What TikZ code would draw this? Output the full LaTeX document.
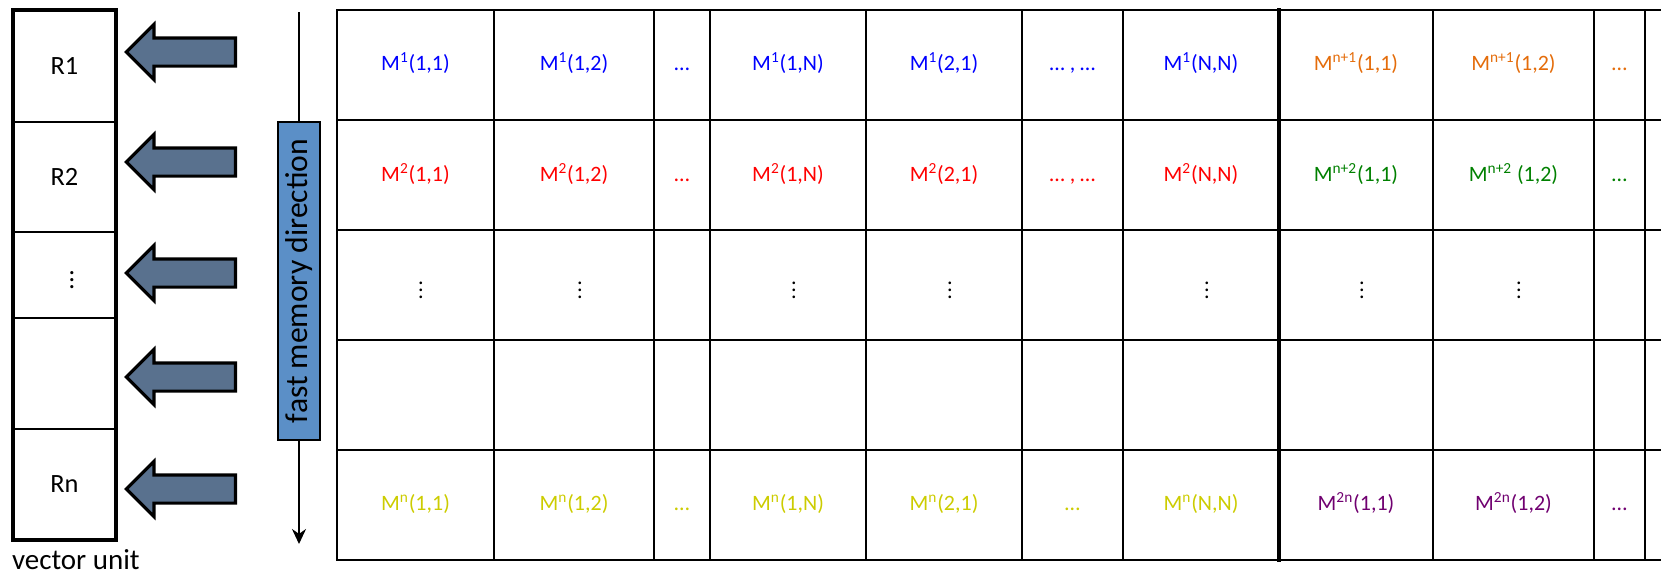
\documentclass[tikz,border=0pt]{standalone}
\usepackage{fontspec}
\setmainfont{Carlito}
\usepackage{xcolor}
\usepackage{tikz}
\usetikzlibrary{arrows.meta,positioning,shapes.arrows}

\definecolor{arrowfill}{RGB}{89,113,142}
\definecolor{dirfill}{RGB}{91,143,199}
\definecolor{mblue}{RGB}{0,0,255}
\definecolor{mred}{RGB}{255,0,0}
\definecolor{morange}{RGB}{228,108,10}
\definecolor{mgreen}{RGB}{0,128,0}
\definecolor{myellow}{RGB}{204,204,0}
\definecolor{mpurple}{RGB}{112,0,112}
\newcommand{\Msup}[1]{M\textsuperscript{#1}}

\begin{document}
\begin{tikzpicture}[
    x=0.02cm, y=-0.02cm,
    every node/.style={inner sep=0pt, outer sep=0pt},
    reg/.style={draw, line width=1.1pt, minimum width=2.06cm, font=\fontsize{15}{17}\selectfont},
    blockarrow/.style={single arrow, draw=black, line width=1.8pt, fill=arrowfill, shape border rotate=180, minimum height=2.18cm, single arrow head extend=0.27cm, inner ysep=0.25cm},
    dirbox/.style={draw, line width=0.8pt, fill=dirfill, rotate=90, minimum width=6.36cm, minimum height=0.84cm, font=\fontsize{18}{20}\selectfont},
    cell/.style={font=\fontsize{12.5}{14}\selectfont, text height=0.72em, text depth=0.2em},
    gridline/.style={line width=1.1pt, line cap=rect},
    lbl/.style={font=\fontsize{16.5}{18}\selectfont}
]
\useasboundingbox (0,0) rectangle (1661,576);

% vector unit
\node[reg, minimum height=2.24cm, anchor=north west] (r1) at (13,10) {R1};
\node[reg, minimum height=2.2cm, below=0pt of r1] (r2) {R2};
\node[reg, minimum height=1.72cm, below=0pt of r2] (r3) {\hspace{0.3cm}$\vdots$};
\node[reg, minimum height=2.22cm, below=0pt of r3] (r4) {};
\node[reg, minimum height=2.22cm, below=0pt of r4] (rn) {Rn};
\draw[line width=2.3pt] (r1.north west) rectangle (rn.south east);
\node[lbl, anchor=base west] (vulbl) at (12,569) {vector unit};

% load arrows
\foreach \ay/\nm in {52/a1, 162/a2, 273/a3, 377/a4, 489/a5}
  \node[blockarrow] (\nm) at (188,\ay) {};

% fast memory direction
\node[dirbox] (fmd) at (299,281) {fast memory direction};
\coordinate (fmtop) at (299,12);
\coordinate (fmend) at (299,544);
\draw[line width=1.1pt] (fmtop) -- (fmd.east);
\draw[line width=1.1pt, -{Stealth[length=0.3cm, width=0.28cm]}] (fmd.west) -- (fmend);

% memory grid
\begin{scope}
\clip (330,0) rectangle (1661,576);
\foreach \gy in {10,120,230,340,450,560}
  \draw[gridline] (337,\gy) -- (1680,\gy);
\foreach \gx in {337,494,654,710,866,1022,1123,1433,1594,1645}
  \draw[gridline] (\gx,10) -- (\gx,560);
\draw[gridline, line width=2.3pt] (1279,10) -- (1279,560);
\end{scope}

\foreach \cx/\cc/\txt [count=\i] in {
    415.5/mblue/{\Msup{1}(1,1)}, 574/mblue/{\Msup{1}(1,2)}, 682/mblue/{…},
    788/mblue/{\Msup{1}(1,N)}, 944/mblue/{\Msup{1}(2,1)}, 1072.5/mblue/{… , …},
    1201/mblue/{\Msup{1}(N,N)}, 1356/morange/{\Msup{n+1}(1,1)},
    1513.5/morange/{\Msup{n+1}(1,2)}, 1619.5/morange/{…}}
  \node[cell, text=\cc] (ma\i) at (\cx,66) {\txt};

\foreach \cx/\cc/\txt [count=\i] in {
    415.5/mred/{\Msup{2}(1,1)}, 574/mred/{\Msup{2}(1,2)}, 682/mred/{…},
    788/mred/{\Msup{2}(1,N)}, 944/mred/{\Msup{2}(2,1)}, 1072.5/mred/{… , …},
    1201/mred/{\Msup{2}(N,N)}, 1356/mgreen/{\Msup{n+2}(1,1)},
    1513.5/mgreen/{\Msup{n+2} (1,2)}, 1619.5/mgreen/{…}}
  \node[cell, text=\cc] (mb\i) at (\cx,177) {\txt};

\foreach \cx [count=\i] in {421,580,794,950,1207,1362,1519}
  \node[font=\fontsize{12.5}{14}\selectfont] (mc\i) at (\cx,285) {$\vdots$};

\foreach \cx/\cc/\txt [count=\i] in {
    415.5/myellow/{\Msup{n}(1,1)}, 574/myellow/{\Msup{n}(1,2)}, 682/myellow/{…},
    788/myellow/{\Msup{n}(1,N)}, 944/myellow/{\Msup{n}(2,1)}, 1072.5/myellow/{…},
    1201/myellow/{\Msup{n}(N,N)}, 1356/mpurple/{\Msup{2n}(1,1)},
    1513.5/mpurple/{\Msup{2n}(1,2)}, 1619.5/mpurple/{…}}
  \node[cell, text=\cc] (me\i) at (\cx,506) {\txt};
\end{tikzpicture}
\end{document}
